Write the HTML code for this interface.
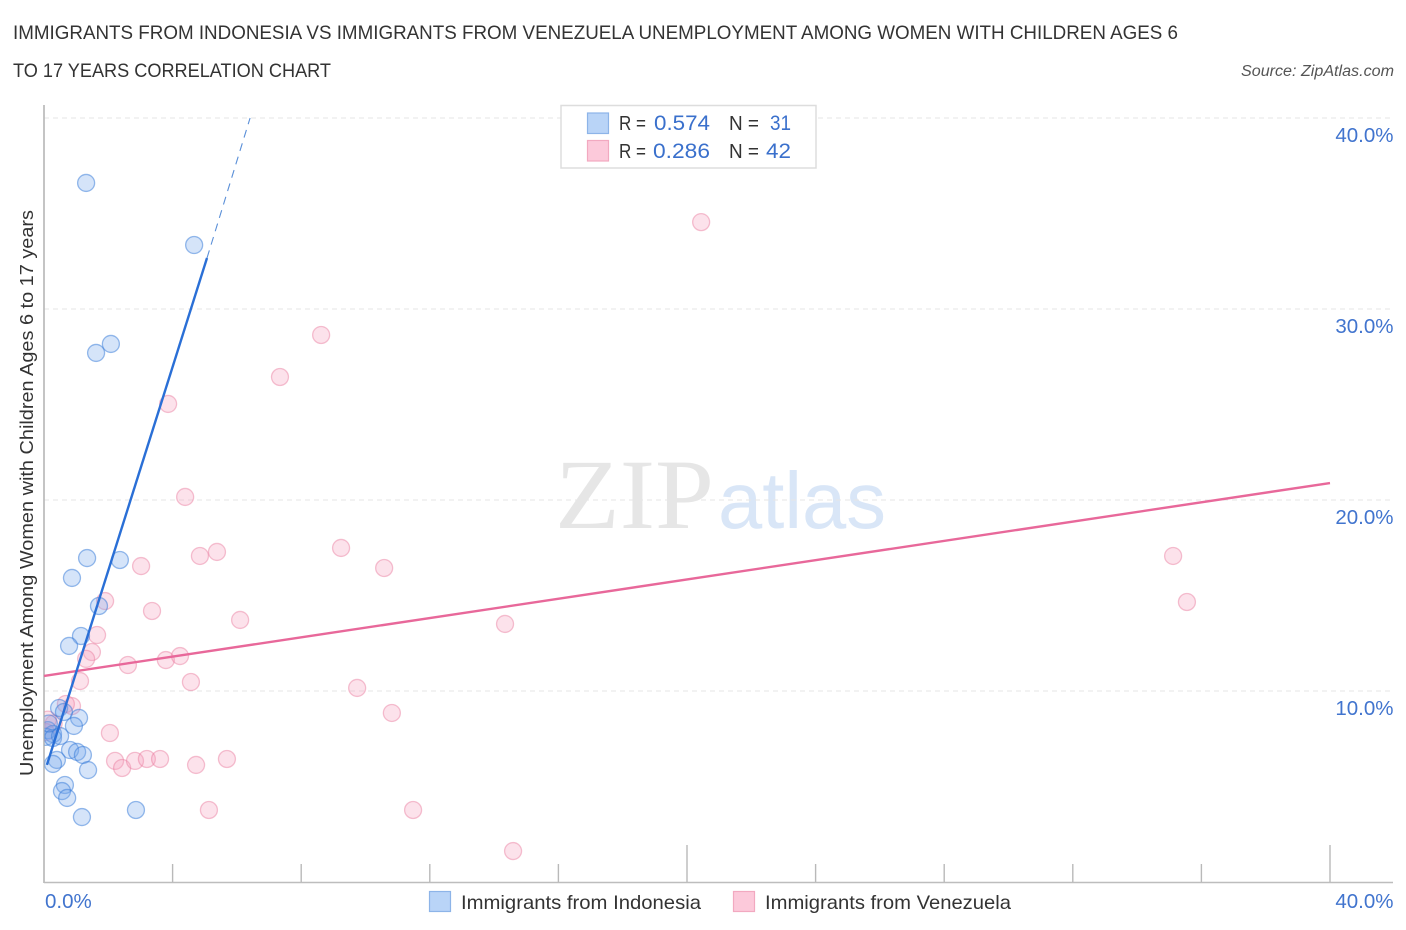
<!DOCTYPE html>
<html lang="en">
<head>
<meta charset="utf-8">
<title>Immigrants from Indonesia vs Immigrants from Venezuela Unemployment Correlation Chart</title>
<style>
html,body{margin:0;padding:0;background:#fff;}
svg{display:block;font-family:"Liberation Sans",sans-serif;}
</style>
</head>
<body>
<svg id="chart" xmlns="http://www.w3.org/2000/svg" width="1406" height="930" viewBox="0 0 1406 930">
  <defs>
    <clipPath id="plot-clip"><rect x="44.500" y="100" width="1350" height="782"/></clipPath>
  </defs>
  <rect x="0" y="0" width="1406" height="930" fill="#ffffff"/>
  <text x="13" y="39" font-size="19" fill="#333333" textLength="1165" lengthAdjust="spacingAndGlyphs">IMMIGRANTS FROM INDONESIA VS IMMIGRANTS FROM VENEZUELA UNEMPLOYMENT AMONG WOMEN WITH CHILDREN AGES 6</text>
  <text x="13" y="77" font-size="19" fill="#333333" textLength="318" lengthAdjust="spacingAndGlyphs">TO 17 YEARS CORRELATION CHART</text>
  <text x="1241" y="76" font-size="15.5" font-style="italic" fill="#555555" textLength="153" lengthAdjust="spacingAndGlyphs">Source: ZipAtlas.com</text>

  <g>
    <text x="555" y="528" font-family="'Liberation Serif',serif" font-size="100" fill="#e6e6e6" textLength="159" lengthAdjust="spacingAndGlyphs">ZIP</text>
    <text x="718" y="528" font-size="80" fill="#d9e6f7" textLength="168" lengthAdjust="spacingAndGlyphs">atlas</text>
  </g>

  <g id="grid"></g>
  <g id="axes"></g>
  <g clip-path="url(#plot-clip)">
    <g id="points-venezuela"></g>
    <g id="points-indonesia"></g>
  </g>
  <g id="trends"></g>
  <g id="labels"></g>

  <text transform="translate(33,776) rotate(-90)" x="0" y="0" font-size="18.5" fill="#333333" textLength="566" lengthAdjust="spacingAndGlyphs">Unemployment Among Women with Children Ages 6 to 17 years</text>

  <g>
    <rect x="561" y="105.500" width="255" height="62.500" fill="#ffffff" stroke="#dddddd" stroke-width="1.500"/>
    <rect x="587.500" y="113" width="21" height="20.500" fill="#b9d4f7" stroke="#8db4e8" stroke-width="1.200"/>
    <rect x="587.500" y="140.500" width="21" height="20.500" fill="#fcc9da" stroke="#f2a9c0" stroke-width="1.200"/>
    <text x="619" y="130" font-size="20" fill="#333333" textLength="27" lengthAdjust="spacingAndGlyphs">R =</text>
    <text x="654" y="130" font-size="21" fill="#3a70cc" textLength="56" lengthAdjust="spacingAndGlyphs">0.574</text>
    <text x="729" y="130" font-size="20" fill="#333333" textLength="30" lengthAdjust="spacingAndGlyphs">N =</text>
    <text x="770" y="130" font-size="21" fill="#3a70cc" textLength="21" lengthAdjust="spacingAndGlyphs">31</text>
    <text x="619" y="158" font-size="20" fill="#333333" textLength="27" lengthAdjust="spacingAndGlyphs">R =</text>
    <text x="653" y="158" font-size="21" fill="#3a70cc" textLength="57" lengthAdjust="spacingAndGlyphs">0.286</text>
    <text x="729" y="158" font-size="20" fill="#333333" textLength="30" lengthAdjust="spacingAndGlyphs">N =</text>
    <text x="766" y="158" font-size="21" fill="#3a70cc" textLength="25" lengthAdjust="spacingAndGlyphs">42</text>
  </g>

  <g>
    <rect x="429.500" y="891.500" width="21" height="20" fill="#b9d4f7" stroke="#8db4e8" stroke-width="1.200"/>
    <text x="461" y="909" font-size="19.500" fill="#333333" textLength="240" lengthAdjust="spacingAndGlyphs">Immigrants from Indonesia</text>
    <rect x="733.500" y="891.500" width="21" height="20" fill="#fcc9da" stroke="#f2a9c0" stroke-width="1.200"/>
    <text x="765" y="909" font-size="19.500" fill="#333333" textLength="246" lengthAdjust="spacingAndGlyphs">Immigrants from Venezuela</text>
  </g>
</svg>
<script>
const indonesiaX = [1.31,4.67,2.08,1.62,1.34,2.36,0.87,1.71,1.15,0.78,1.09,0.93,0.47,0.62,0.12,0.28,0.06,0.28,0.50,0.15,0.81,1.03,1.21,0.40,0.28,1.37,0.65,0.56,0.72,1.18,2.86];
const indonesiaY = [36.60,33.35,28.17,27.70,16.96,16.86,15.92,14.45,12.88,12.36,8.59,8.17,9.11,8.90,7.95,7.75,7.60,7.54,7.64,8.30,6.91,6.81,6.65,6.39,6.18,5.86,5.08,4.76,4.40,3.40,3.77];
const venezuelaX = [20.44,8.62,7.34,3.86,4.39,9.24,5.38,4.85,3.02,10.58,35.12,35.55,1.90,3.36,6.10,14.34,1.65,1.49,1.31,2.61,3.79,4.23,1.12,4.57,9.74,10.82,0.87,0.68,2.05,0.30,0.12,0.06,2.21,2.43,2.83,3.20,3.61,4.73,5.69,5.13,11.48,14.59];
const venezuelaY = [34.55,28.64,26.44,25.03,20.16,17.49,17.28,17.07,16.54,16.44,17.07,14.66,14.71,14.19,13.72,13.51,12.93,12.04,11.68,11.36,11.62,11.83,10.52,10.47,10.16,8.85,9.21,9.32,7.80,8.30,8.50,7.85,6.34,5.97,6.34,6.44,6.44,6.13,6.44,3.77,3.77,1.62];
const indonesiaTrendX = [0.09,5.07];
const indonesiaTrendY = [6.13,32.67];
const indonesiaDashX = [5.07,6.41];
const indonesiaDashY = [32.67,40];
const venezuelaTrendX = [0,40];
const venezuelaTrendY = [10.79,20.89];
const yGridValues = [10,20,30,40];
const yTickLabels = ['10.0%','20.0%','30.0%','40.0%'];
const xTickValues = [0,4,8,12,16,20,24,28,32,36,40];
const xMajorValues = [20,40];
const xEndValues = [0,40];
const xEndLabels = ['0.0%','40.0%'];

const NS = 'http://www.w3.org/2000/svg';
function xScale(v){ return 44 + v * 32.15; }
function yScale(v){ return 882 - v * 19.1; }
function make(tag, attrs, parent){
  const el = document.createElementNS(NS, tag);
  Object.keys(attrs).forEach(function(k){ el.setAttribute(k, attrs[k]); });
  parent.appendChild(el);
  return el;
}
const grid = document.getElementById('grid');
const axes = document.getElementById('axes');
const labels = document.getElementById('labels');
const trends = document.getElementById('trends');

yGridValues.forEach(function(v, i){
  const g = make('line', {x1:44, x2:1393, y1:yScale(v), y2:yScale(v), stroke:'#e6e6e6', 'stroke-width':1, 'stroke-dasharray':'5 4'}, grid);
  
  
  const t = make('text', {x:1393.5, y:yScale(v)+24, 'text-anchor':'end', 'font-size':20.5, fill:'#4174ce'}, labels);
  
  
  t.textContent = yTickLabels[i];
});

const yAxis = make('line', {x1:44, x2:44, y1:105, y2:883, stroke:'#b5b5b5', 'stroke-width':1.6}, axes);


const xAxis = make('line', {x1:44, x2:1393, y1:882.5, y2:882.5, stroke:'#bdbdbd', 'stroke-width':1.6}, axes);


xTickValues.forEach(function(v){
  if (v === 0) return;
  const top = xMajorValues.indexOf(v) >= 0 ? 845 : 864;
  const tick = make('line', {x1:xScale(v), x2:xScale(v), y1:top, y2:882, stroke:'#b9b9b9', 'stroke-width':1.4}, axes);
  
  
});
xEndValues.forEach(function(v, i){
  const atStart = i === 0;
  const t = make('text', {x: atStart ? xScale(v)+1 : 1393.5, y:908, 'text-anchor': atStart ? 'start' : 'end', 'font-size':20.5, fill:'#4174ce'}, labels);
  
  
  t.textContent = xEndLabels[i];
});

const pinkGroup = document.getElementById('points-venezuela');
venezuelaX.forEach(function(x, i){
  const c = make('circle', {cx:xScale(x), cy:yScale(venezuelaY[i]), r:8.5, fill:'rgba(246,160,188,0.3)', stroke:'rgba(232,120,156,0.45)', 'stroke-width':1.3}, pinkGroup);
  
  
});
const blueGroup = document.getElementById('points-indonesia');
indonesiaX.forEach(function(x, i){
  const c = make('circle', {cx:xScale(x), cy:yScale(indonesiaY[i]), r:8.5, fill:'rgba(115,165,235,0.3)', stroke:'rgba(50,120,215,0.5)', 'stroke-width':1.3}, blueGroup);
  
  
});

const pinkLine = make('line', {x1:xScale(venezuelaTrendX[0]), y1:yScale(venezuelaTrendY[0]), x2:xScale(venezuelaTrendX[1]), y2:yScale(venezuelaTrendY[1]), stroke:'#e8689a', 'stroke-width':2.4}, trends);


const blueLine = make('line', {x1:xScale(indonesiaTrendX[0]), y1:yScale(indonesiaTrendY[0]), x2:xScale(indonesiaTrendX[1]), y2:yScale(indonesiaTrendY[1]), stroke:'#2a6fd6', 'stroke-width':2.4}, trends);


const blueDash = make('line', {x1:xScale(indonesiaDashX[0]), y1:yScale(indonesiaDashY[0]), x2:xScale(indonesiaDashX[1]), y2:yScale(indonesiaDashY[1]), stroke:'#5a8fd8', 'stroke-width':1.1, 'stroke-dasharray':'8 6'}, trends);


</script>
</body>
</html>
